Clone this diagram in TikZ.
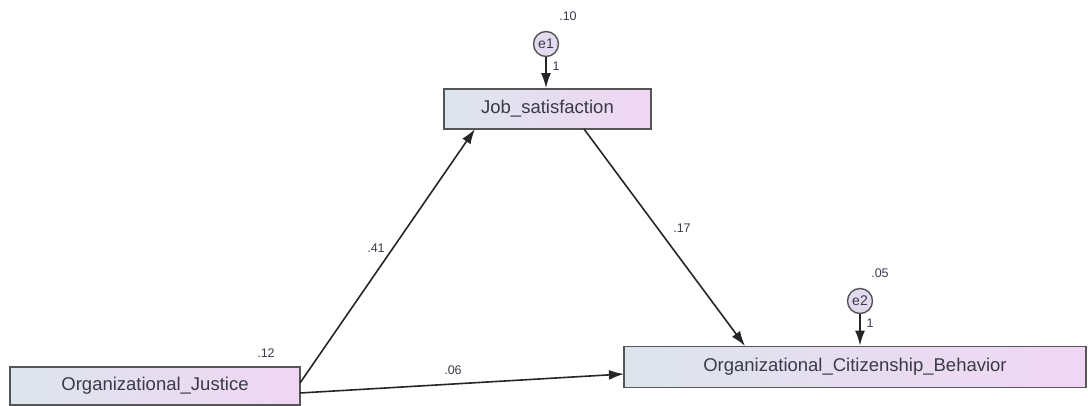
\documentclass[tikz,border=0pt]{standalone}
\usepackage{fontspec}
\setmainfont{Liberation Sans}
\usetikzlibrary{arrows.meta}
\definecolor{boxleft}{HTML}{DDE5EC}
\definecolor{boxright}{HTML}{F0D6F4}
\definecolor{boxline}{HTML}{555555}
\definecolor{txt}{HTML}{3A3A4A}
\definecolor{errfill}{HTML}{E2DAEE}
\tikzset{
  varbox/.style={draw=boxline, line width=1.8pt, left color=boxleft, right color=boxright,
    text=txt, font=\fontsize{18.5}{20}\selectfont, inner sep=0pt, anchor=center},
  errc/.style={circle, draw=boxline, line width=1.4pt, fill=errfill, minimum size=25pt,
    inner sep=0pt, font=\fontsize{14}{16}\selectfont, text=txt,
    append after command={\pgfextra{\draw[boxline!70, line width=0.8pt] (\tikzlastnode.center) circle (9pt);}}},
  coef/.style={font=\fontsize{12.5}{14}\selectfont, text=txt, inner sep=0pt},
  path/.style={line width=1.6pt, draw=black!85, -{Latex[length=15pt,width=10pt]}}
}
\begin{document}
\begin{tikzpicture}[x=1pt,y=-1pt]
\useasboundingbox (0,0) rectangle (1088,406);
\node[varbox, minimum width=207pt, minimum height=40pt] (js) at (547.5,109) {Job\_satisfaction};
\node[varbox, minimum width=290pt, minimum height=38pt] (oj) at (155,386) {Organizational\_Justice};
\node[varbox, minimum width=462pt, minimum height=41pt] (ocb) at (855,367) {Organizational\_Citizenship\_Behavior};
\node[errc] (e1) at (546,44) {e1};
\node[errc] (e2) at (860,301) {e2};
\coordinate (ojt) at (300,383);
\coordinate (ojr) at (300,393);
\coordinate (jst) at (475,129);
\coordinate (jsb) at (584,129);
\coordinate (ocbt) at (745,346);
\coordinate (ocbl) at (624,374);
\draw[path] (e1) -- (js.north -| e1);
\draw[path] (e2) -- (ocb.north -| e2);
\draw[path] (ojt) -- (jst);
\draw[path] (jsb) -- (ocbt);
\draw[path] (ojr) -- (ocbl);
\node[coef] (c10) at (568,16) {.10};
\node[coef] (c1a) at (556,66) {1};
\node[coef] (c05) at (880,273) {.05};
\node[coef] (c1b) at (870,323) {1};
\node[coef] (c12) at (266,353) {.12};
\node[coef] (c41) at (376,248) {.41};
\node[coef] (c17) at (682,228) {.17};
\node[coef] (c06) at (453,370) {.06};
\end{tikzpicture}
\end{document}
